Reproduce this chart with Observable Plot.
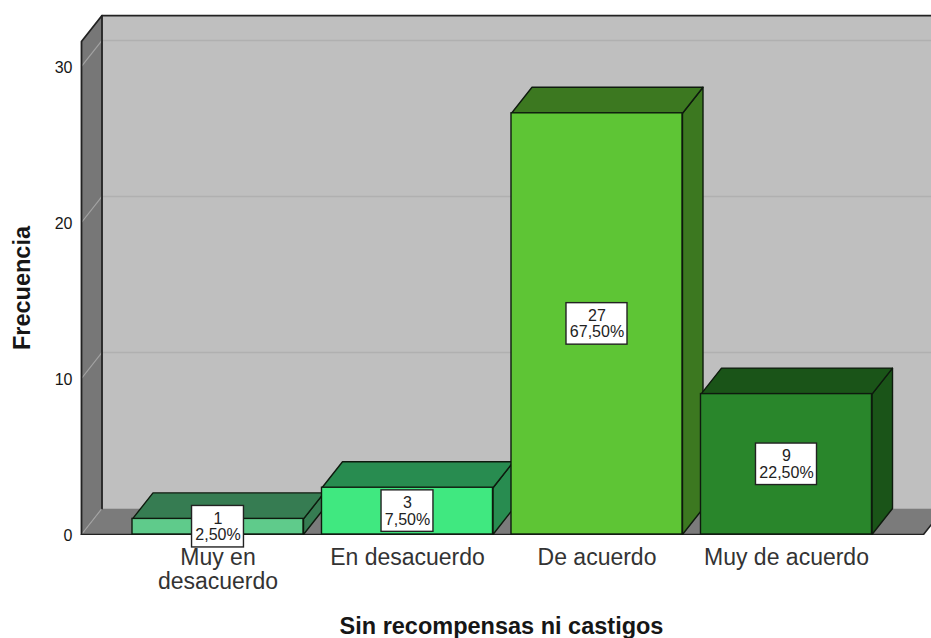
<!DOCTYPE html>
<html><head><meta charset="utf-8">
<script src="https://cdn.jsdelivr.net/npm/d3@7"></script>
<script src="https://cdn.jsdelivr.net/npm/@observablehq/plot@0.6"></script>
<style>html,body{margin:0;padding:0;background:#fff}svg{display:block}</style>
</head><body><div id="chart"></div>
<script>
const categories = ["Muy en\ndesacuerdo", "En desacuerdo", "De acuerdo", "Muy de acuerdo"];
const counts = [1, 3, 27, 9];
const percents = ["2,50%", "7,50%", "67,50%", "22,50%"];
const frontColors = ["#5fcb8b", "#40e880", "#5ec535", "#29862b"];
const sideColors = ["#367c52", "#288c50", "#3c7820", "#1a5418"];
const yTicks = [0, 10, 20, 30];

const font = "'Liberation Sans', Arial, sans-serif";
const ink = "#161616";
const depthX = 0.1082, depthY = 1.667;  // depth of the 3-D box, in data units
const half = 0.4512;                    // half a bar, in category units
const xLeft = -0.7203, xRight = 3.723, yTop = 31.6;

const poly = (pts, fill, stroke, strokeWidth = 1.4) =>
  Plot.line(pts.map(([x, y]) => ({x, y})), {x: "x", y: "y", fill, stroke, strokeWidth, curve: "linear-closed", clip: true});
const seg = (pts, stroke, strokeWidth = 1.4) =>
  Plot.line(pts.map(([x, y]) => ({x, y})), {x: "x", y: "y", stroke, strokeWidth, clip: true});

const marks = [];
// walls and floor
marks.push(poly([[xLeft+depthX,depthY],[xRight+depthX,depthY],[xRight+depthX,yTop+depthY],[xLeft+depthX,yTop+depthY]], "#bfbfbf", "none"));
marks.push(poly([[xLeft,0],[xLeft+depthX,depthY],[xLeft+depthX,yTop+depthY],[xLeft,yTop]], "#777777", "none"));
marks.push(poly([[xLeft,0],[xRight,0],[xRight+depthX,depthY],[xLeft+depthX,depthY]], "#7b7b7b", "none"));
for (const t of yTicks) {
  if (t > 0) marks.push(seg([[xLeft+depthX,t+depthY],[xRight+depthX,t+depthY]], "#b0b0b0", 1.3));
  marks.push(seg([[xLeft,t],[xLeft+depthX,t+depthY]], "#a2a2a2", 1.2));
}
marks.push(seg([[xLeft,0],[xLeft,yTop],[xLeft+depthX,yTop+depthY],[xRight+depthX,yTop+depthY]], "#222", 1.8));
marks.push(seg([[xLeft+depthX,depthY],[xLeft+depthX,yTop+depthY]], "#222", 1.8));
marks.push(seg([[xLeft,0],[xRight,0],[xRight+depthX,depthY]], "#222", 1.6));

// axes
marks.push(Plot.axisY({ticks: yTicks, tickSize: 0, tickPadding: 8, dy: 1, label: null, fontSize: 16, fontFamily: font, fill: ink, anchor: "left"}));
marks.push(Plot.axisX({ticks: [0,1,2,3], tickFormat: i => categories[i], tickSize: 0, tickPadding: 13, label: null, fontSize: 23, lineHeight: 1.04, fontFamily: font, fill: "#333", anchor: "bottom"}));
marks.push(Plot.text(["Sin recompensas ni castigos"], {frameAnchor: "bottom", dx: -4.5, dy: 98.5, fontSize: 23.5, fontWeight: "bold", fontFamily: font, fill: ink}));
marks.push(Plot.text(["Frecuencia"], {frameAnchor: "left", textAnchor: "middle", dx: -58, dy: 13, rotate: -90, fontSize: 23.5, fontWeight: "bold", fontFamily: font, fill: ink}));

// bars, left to right so each one covers the side of the previous one
counts.forEach((v, i) => {
  const a = i - half, b = i + half;
  marks.push(poly([[b,0],[b+depthX,depthY],[b+depthX,v+depthY],[b,v]], sideColors[i], "#0e1a0e"));
  marks.push(poly([[a,v],[a+depthX,v+depthY],[b+depthX,v+depthY],[b,v]], sideColors[i], "#0e1a0e"));
  marks.push(Plot.rect([v], {x1: () => a, x2: () => b, y1: () => 0, y2: d => d, fill: frontColors[i], stroke: "#0e1a0e", strokeWidth: 1.4}));
});

// value boxes
const rows = counts.map((v, i) => ({i, v, label: v + "\n" + percents[i], w: percents[i].length > 5 ? 0.161 : 0.137}));
marks.push(Plot.rect(rows, {x1: d => d.i - d.w, x2: d => d.i + d.w, y1: d => d.v/2 - 1.33, y2: d => d.v/2 + 1.33, fill: "white", stroke: "#222", strokeWidth: 1.4}));
marks.push(Plot.text(rows, {x: "i", y: d => d.v/2, text: "label", fontSize: 16, lineHeight: 1.03, fontFamily: font, fill: "#222"}));

document.getElementById("chart").append(Plot.plot({
  width: 931, height: 638, marginLeft: 80, marginRight: 0, marginTop: 14, marginBottom: 103,
  x: {type: "linear", domain: [-0.7256, 3.7652], axis: null},
  y: {type: "linear", domain: [-0.064, 33.333], axis: null},
  style: {background: "#fff", overflow: "visible"},
  marks
}));
</script></body></html>
